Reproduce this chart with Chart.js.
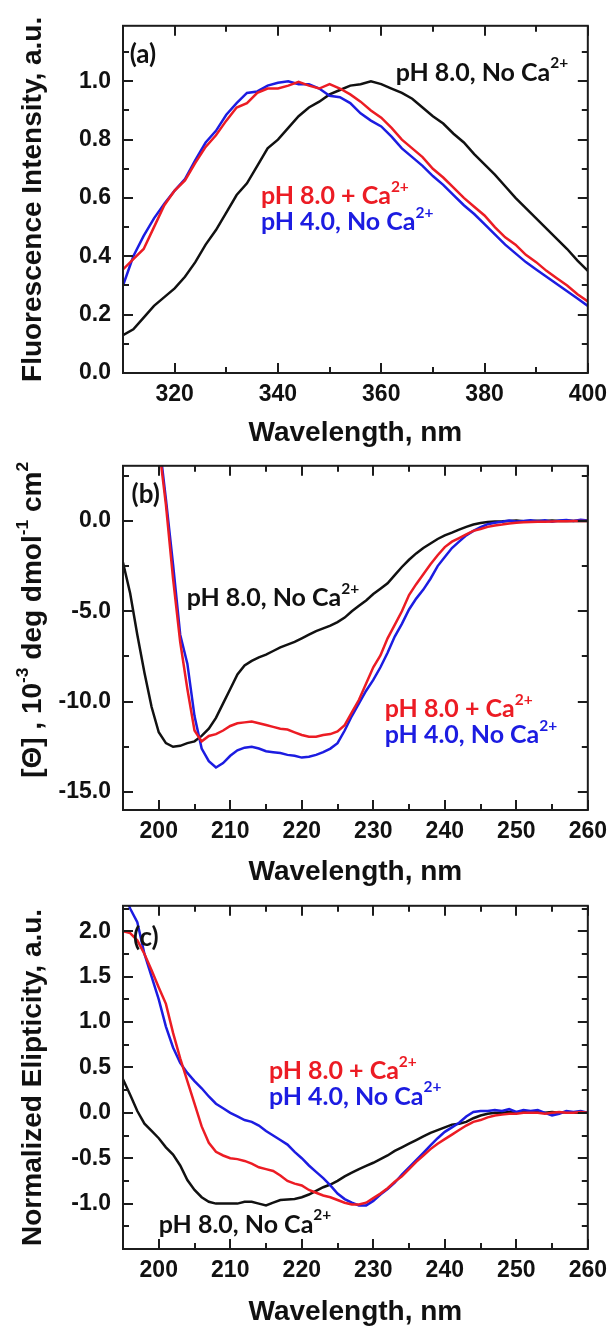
<!DOCTYPE html>
<html><head><meta charset="utf-8">
<script src="https://cdn.jsdelivr.net/npm/chart.js@4/dist/chart.umd.min.js"></script>
<style>
html,body{margin:0;padding:0;background:#fff;}
body{width:615px;height:1329px;position:relative;overflow:hidden;}
canvas{position:absolute;left:0;}
</style></head><body>
<canvas id="ca" width="615" height="460" style="top:0px"></canvas>
<canvas id="cb" width="615" height="460" style="top:440px"></canvas>
<canvas id="cc" width="615" height="449" style="top:880px"></canvas>
<script>
// ---------- DATA ----------
const seriesNames = ['pH 8.0 + Ca2+', 'pH 4.0, No Ca2+', 'pH 8.0, No Ca2+'];

// (a) fluorescence
const wlA = [310,312,314,316,318,320,322,324,326,328,330,332,334,336,338,340,342,344,346,348,350,352,354,356,358,360,362,364,366,368,370,372,374,376,378,380,382,384,386,388,390,392,394,396,398,400];
const fluoCa8 = [0.355,0.39,0.425,0.50,0.575,0.625,0.66,0.72,0.775,0.815,0.865,0.91,0.925,0.96,0.975,0.975,0.985,0.998,0.985,0.975,0.99,0.975,0.955,0.93,0.90,0.875,0.84,0.80,0.77,0.74,0.70,0.67,0.635,0.60,0.57,0.54,0.50,0.465,0.44,0.405,0.38,0.35,0.325,0.30,0.27,0.245];
const fluoPH4 = [0.30,0.40,0.47,0.53,0.58,0.625,0.665,0.73,0.79,0.83,0.885,0.925,0.96,0.965,0.985,0.995,1.0,0.99,0.99,0.975,0.95,0.945,0.925,0.89,0.865,0.845,0.81,0.77,0.74,0.71,0.675,0.645,0.61,0.575,0.545,0.51,0.475,0.44,0.41,0.38,0.355,0.33,0.305,0.28,0.255,0.23];
const fluoNoCa8 = [0.13,0.15,0.19,0.23,0.26,0.29,0.33,0.38,0.44,0.49,0.55,0.61,0.65,0.71,0.77,0.80,0.84,0.88,0.91,0.93,0.955,0.97,0.985,0.99,1.0,0.99,0.975,0.96,0.94,0.91,0.88,0.855,0.82,0.79,0.75,0.715,0.68,0.64,0.60,0.565,0.53,0.495,0.46,0.425,0.385,0.35];

// (b) and (c) CD spectra
const wlCD = [195,196,197,198,199,200,201,202,203,204,205,206,207,208,209,210,211,212,213,214,215,216,217,218,219,220,221,222,223,224,225,226,227,228,229,230,231,232,233,234,235,236,237,238,239,240,241,242,243,244,245,246,247,248,249,250,251,252,253,254,255,256,257,258,259,260];
const cdCa8 = [null,null,null,null,null,4.2,0.9,-3.2,-6.7,-9.3,-11.6,-12.2,-11.9,-11.8,-11.6,-11.35,-11.2,-11.15,-11.1,-11.2,-11.3,-11.4,-11.5,-11.55,-11.7,-11.85,-11.95,-11.95,-11.85,-11.8,-11.65,-11.3,-10.6,-9.9,-9.0,-8.1,-7.45,-6.5,-5.75,-5.0,-4.1,-3.5,-2.95,-2.4,-1.9,-1.45,-1.15,-0.95,-0.75,-0.55,-0.45,-0.33,-0.25,-0.2,-0.14,-0.1,-0.08,-0.06,-0.05,-0.04,-0.03,-0.02,-0.02,-0.01,0.0,0.0];
const cdPH4 = [null,null,null,null,null,4.6,1.2,-2.4,-6.3,-7.9,-10.8,-12.6,-13.3,-13.65,-13.4,-13.0,-12.7,-12.55,-12.5,-12.6,-12.75,-12.8,-12.85,-12.95,-13.0,-13.1,-13.05,-12.95,-12.8,-12.6,-12.3,-11.6,-10.8,-10.1,-9.4,-8.8,-8.1,-7.3,-6.4,-5.7,-4.9,-4.3,-3.8,-3.2,-2.5,-2.0,-1.5,-1.15,-0.8,-0.55,-0.35,-0.18,-0.1,-0.05,0.02,-0.03,0.0,0.03,-0.02,0.04,-0.05,0.02,0.05,0.0,0.06,0.02];
const cdNoCa8 = [-2.3,-4.0,-6.3,-8.4,-10.3,-11.7,-12.3,-12.5,-12.45,-12.3,-12.2,-11.9,-11.5,-10.9,-10.1,-9.3,-8.5,-8.0,-7.75,-7.55,-7.4,-7.2,-7.0,-6.85,-6.7,-6.5,-6.3,-6.1,-5.95,-5.8,-5.6,-5.35,-5.0,-4.7,-4.4,-4.05,-3.75,-3.45,-3.0,-2.55,-2.15,-1.8,-1.5,-1.25,-1.0,-0.8,-0.65,-0.48,-0.33,-0.2,-0.12,-0.06,-0.03,-0.02,0.0,0.02,-0.02,0.0,0.01,-0.01,0.02,0.0,0.01,0.0,0.01,0.0];

const normCa8 = [2.0,1.98,1.9,1.75,1.57,1.38,1.2,0.88,0.6,0.35,0.1,-0.15,-0.33,-0.43,-0.47,-0.5,-0.51,-0.53,-0.56,-0.6,-0.62,-0.64,-0.69,-0.75,-0.78,-0.8,-0.85,-0.88,-0.91,-0.93,-0.96,-0.99,-1.01,-1.01,-0.99,-0.94,-0.89,-0.83,-0.76,-0.7,-0.62,-0.54,-0.47,-0.4,-0.34,-0.29,-0.24,-0.19,-0.14,-0.1,-0.08,-0.05,-0.03,-0.02,-0.01,-0.01,0.0,0.0,0.0,-0.01,0.0,0.01,0.0,0.0,0.01,0.0];
const normPH4 = [2.45,2.25,2.1,1.75,1.5,1.25,0.95,0.72,0.55,0.44,0.35,0.27,0.18,0.1,0.05,0.0,-0.04,-0.08,-0.1,-0.14,-0.2,-0.25,-0.3,-0.35,-0.43,-0.5,-0.58,-0.65,-0.72,-0.8,-0.89,-0.95,-0.99,-1.02,-1.02,-0.97,-0.9,-0.84,-0.77,-0.68,-0.6,-0.52,-0.44,-0.36,-0.28,-0.21,-0.16,-0.11,-0.04,0.01,0.02,0.02,0.03,0.02,0.04,0.01,0.03,0.02,0.03,0.0,-0.03,-0.01,0.02,0.01,0.02,0.0];
const normNoCa8 = [0.37,0.2,0.02,-0.12,-0.2,-0.28,-0.38,-0.46,-0.58,-0.74,-0.85,-0.93,-0.98,-1.0,-1.0,-1.0,-1.0,-0.98,-0.98,-1.0,-1.02,-0.99,-0.96,-0.955,-0.95,-0.93,-0.9,-0.86,-0.82,-0.79,-0.75,-0.7,-0.66,-0.62,-0.585,-0.55,-0.51,-0.47,-0.42,-0.38,-0.34,-0.3,-0.26,-0.22,-0.19,-0.16,-0.13,-0.12,-0.1,-0.06,-0.03,-0.01,0.0,0.0,0.01,0.0,0.01,0.0,0.01,0.0,0.01,0.0,0.01,0.0,0.0,0.0];

// tick values / labels
const xTicksA = [320,340,360,380,400];
const xMinorA = [330,350,370,390];
const yTicksA = [0,0.2,0.4,0.6,0.8,1.0];
const yMinorA = [0.1,0.3,0.5,0.7,0.9,1.1];
const xTicksCD = [200,210,220,230,240,250,260];
const xMinorCD = [205,215,225,235,245,255];
const yTicksB = [-15,-10,-5,0];
const yMinorB = [-12.5,-7.5,-2.5,2.5];
const yTicksC = [-1,-0.5,0,0.5,1,1.5,2];
const yMinorC = [-1.25,-0.75,-0.25,0.25,0.75,1.25,1.75,2.25];

// ---------- STYLE ----------
const RED = 'rgb(236,28,36)', BLUE = 'rgb(28,28,225)', BLACK = '#111111';
const AXFAM = "'Liberation Sans', Arial, sans-serif";
const ANFAM = "Lato, 'Open Sans', sans-serif";
const TICK_FONT = {family: AXFAM, weight: 'bold', size: 23};
const TITLE_FONT = {family: AXFAM, weight: 'bold', size: 28};

function drawRich(ctx, parts, x, y, size, color, family){
  let cx = x;
  ctx.fillStyle = color;
  ctx.textBaseline = 'middle';
  ctx.textAlign = 'left';
  for (const [t, sup] of parts){
    const fs = sup ? size * 0.62 : size;
    ctx.font = `bold ${fs}px ${family}`;
    ctx.fillText(t, cx, sup ? y - size * 0.36 : y);
    cx += ctx.measureText(t).width;
  }
}
function richWidth(ctx, parts, size, family){
  let w = 0;
  for (const [t, sup] of parts){
    ctx.font = `bold ${sup ? size*0.62 : size}px ${family}`;
    w += ctx.measureText(t).width;
  }
  return w;
}

function makeChart(id, p){
  const H = p.height;
  const framePlugin = {
    id: 'frame' + id,
    afterDatasetsDraw(chart){
      const {ctx, chartArea: a, scales: {x, y}} = chart;
      ctx.save();
      ctx.strokeStyle = '#1c1c1c';
      ctx.lineWidth = 2;
      ctx.beginPath();
      const tx = (vals, len) => vals.forEach(v => {
        const px = Math.round(x.getPixelForValue(v));
        ctx.moveTo(px, a.bottom); ctx.lineTo(px, a.bottom - len);
        ctx.moveTo(px, a.top); ctx.lineTo(px, a.top + len);
      });
      const ty = (vals, len) => vals.forEach(v => {
        const py = Math.round(y.getPixelForValue(v));
        ctx.moveTo(a.left, py); ctx.lineTo(a.left + len, py);
        ctx.moveTo(a.right, py); ctx.lineTo(a.right - len, py);
      });
      tx(p.xTicks, 10); tx(p.xMinor, 6); ty(p.yTicks, 10); ty(p.yMinor, 6);
      ctx.stroke();
      ctx.strokeRect(a.left, a.top, a.right - a.left, a.bottom - a.top);
      ctx.restore();
    },
    afterDraw(chart){
      const {ctx, chartArea: a, scales: {x, y}} = chart;
      ctx.save();
      p.labels.forEach(l => {
        drawRich(ctx, l.parts, x.getPixelForValue(l.x), y.getPixelForValue(l.y), l.size || 25, l.color, ANFAM);
      });
      if (p.richYTitle){
        const parts = p.richYTitle;
        const w = richWidth(ctx, parts, 28, AXFAM);
        ctx.translate(33, (a.top + a.bottom) / 2 - 18);
        ctx.rotate(-Math.PI / 2);
        let cx = -w / 2;
        ctx.fillStyle = '#111';
        ctx.textBaseline = 'middle';
        for (const [t, sup] of parts){
          const fs = sup ? 28 * 0.62 : 28;
          ctx.font = `bold ${fs}px ${AXFAM}`;
          ctx.fillText(t, cx, sup ? -10 : 0);
          cx += ctx.measureText(t).width;
        }
      }
      ctx.restore();
    }
  };
  const ds = (label, xs, ys, color) => ({
    label, data: xs.map((xv, i) => ({x: xv, y: ys[i]})),
    borderColor: color, borderWidth: 2.5, pointRadius: 0, tension: 0, fill: false
  });
  return new Chart(document.getElementById(id), {
    type: 'line',
    data: {datasets: [
      ds(seriesNames[0], p.x, p.red, RED),
      ds(seriesNames[1], p.x, p.blue, BLUE),
      ds(seriesNames[2], p.x, p.black, BLACK)
    ]},
    options: {
      responsive: false, animation: false, devicePixelRatio: 1,
      layout: {padding: {top: p.top, right: 23, left: 0, bottom: 0}},
      plugins: {legend: {display: false}, tooltip: {enabled: false}},
      scales: {
        x: {
          type: 'linear', min: p.xMin, max: p.xMax,
          grid: {display: false, drawTicks: false}, border: {display: false},
          afterBuildTicks: s => { s.ticks = p.xTicks.map(v => ({value: v})); },
          afterFit: s => { s.height = H - p.bottom; },
          ticks: {font: TICK_FONT, color: '#111', padding: 8, maxRotation: 0, autoSkip: false,
                  callback: v => String(v)},
          title: {display: true, text: 'Wavelength, nm', font: TITLE_FONT, color: '#111',
                  padding: {top: 0, bottom: p.xTitlePad}}
        },
        y: {
          type: 'linear', min: p.yMin, max: p.yMax,
          grid: {display: false, drawTicks: false}, border: {display: false},
          afterBuildTicks: s => { s.ticks = p.yTicks.map(v => ({value: v})); },
          afterFit: s => { s.width = 123; },
          ticks: {font: TICK_FONT, color: '#111', padding: 12, autoSkip: false,
                  callback: v => Number(v).toFixed(1)},
          title: {display: !!p.yTitle, text: p.yTitle || '', font: TITLE_FONT, color: '#111',
                  padding: {top: 16, bottom: 0}}
        }
      }
    },
    plugins: [framePlugin]
  });
}

const sup2 = [['2+', 1]];
makeChart('ca', {
  height: 460, top: 21, bottom: 373, xTitlePad: 10.2,
  x: wlA, red: fluoCa8, blue: fluoPH4, black: fluoNoCa8,
  xMin: 310, xMax: 400, yMin: 0, yMax: 1.19,
  xTicks: xTicksA, xMinor: xMinorA, yTicks: yTicksA, yMinor: yMinorA,
  yTitle: 'Fluorescence Intensity, a.u.',
  labels: [
    {parts: [['pH 8.0, No Ca', 0], ...sup2], x: 362.8, y: 1.03, color: BLACK},
    {parts: [['pH 8.0 + Ca', 0], ...sup2], x: 336.7, y: 0.608, color: RED},
    {parts: [['pH 4.0, No Ca', 0], ...sup2], x: 336.7, y: 0.517, color: BLUE},
    {parts: [['(a)', 0]], x: 311.3, y: 1.09, color: BLACK, size: 26}
  ]
});
makeChart('cb', {
  height: 460, top: 18, bottom: 370, xTitlePad: 11.2,
  x: wlCD, red: cdCa8, blue: cdPH4, black: cdNoCa8,
  xMin: 195, xMax: 260, yMin: -16, yMax: 3.05,
  xTicks: xTicksCD, xMinor: xMinorCD, yTicks: yTicksB, yMinor: yMinorB,
  yTitle: null,
  richYTitle: [['[Θ] , 10', 0], ['-3', 1], [' deg dmol', 0], ['-1', 1], [' cm', 0], ['2', 1]],
  labels: [
    {parts: [['pH 8.0, No Ca', 0], ...sup2], x: 203.9, y: -4.26, color: BLACK},
    {parts: [['pH 8.0 + Ca', 0], ...sup2], x: 231.6, y: -10.43, color: RED},
    {parts: [['pH 4.0, No Ca', 0], ...sup2], x: 231.6, y: -11.83, color: BLUE},
    {parts: [['(b)', 0]], x: 196.2, y: 1.48, color: BLACK, size: 26}
  ]
});
makeChart('cc', {
  height: 449, top: 17, bottom: 369, xTitlePad: 0.2,
  x: wlCD, red: normCa8, blue: normPH4, black: normNoCa8,
  xMin: 195, xMax: 260, yMin: -1.5, yMax: 2.28,
  xTicks: xTicksCD, xMinor: xMinorCD, yTicks: yTicksC, yMinor: yMinorC,
  yTitle: 'Normalized Elipticity, a.u.',
  labels: [
    {parts: [['pH 8.0 + Ca', 0], ...sup2], x: 215.4, y: 0.46, color: RED},
    {parts: [['pH 4.0, No Ca', 0], ...sup2], x: 215.4, y: 0.18, color: BLUE},
    {parts: [['pH 8.0, No Ca', 0], ...sup2], x: 200, y: -1.23, color: BLACK},
    {parts: [['(c)', 0]], x: 196.4, y: 1.93, color: BLACK, size: 26}
  ]
});
</script>
</body></html>
